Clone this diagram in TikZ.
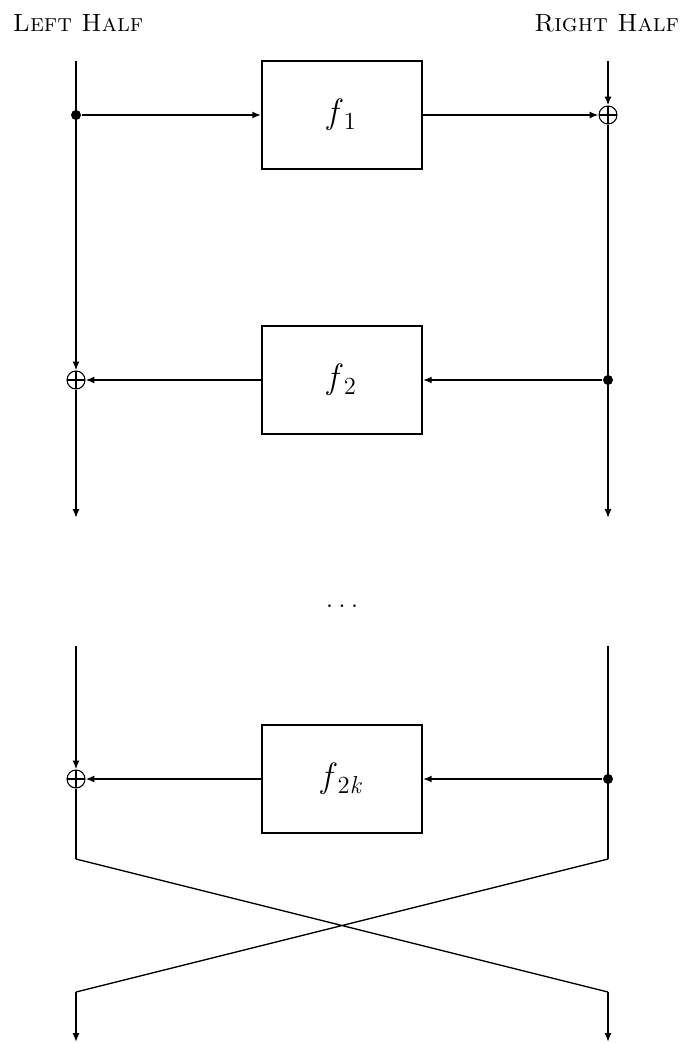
\documentclass[tikz,border=0pt]{standalone}
\usepackage{fontspec}
\usetikzlibrary{arrows.meta}

\newcommand{\fn}[1]{\textit{f}\kern.5pt\textsubscript{#1}}

\tikzset{
	round/.style={draw,rectangle,minimum width=3.2cm,minimum height=2.16cm,line width=1.1pt,font=\fontsize{20}{24}\selectfont},
	xor/.style={draw,circle,line width=.6pt,inner sep=0pt,minimum size=.36cm,fill=white,
		path picture={\draw[line width=.6pt] (path picture bounding box.north) -- (path picture bounding box.south)
			(path picture bounding box.west) -- (path picture bounding box.east);}},
	split/.style={circle,fill=black,inner sep=0pt,minimum size=.2cm},
	half/.style={font=\fontsize{14.2}{17}\selectfont\scshape}
}

\begin{document}
\begin{tikzpicture}[x=.02cm,y=-.02cm,>={Latex[length=5pt,width=4pt]},line width=1.1pt]
	\useasboundingbox (0,0) rectangle (682,1043);

	\node[half,anchor=base west,inner sep=0pt] (lh) at (12,32) {Left Half};
	\node[half,anchor=base east,inner sep=0pt] (rh) at (680,32) {Right Half};

	% first two rounds
	\coordinate (lt1) at (76,61);
	\coordinate (rt1) at (608,61);
	\coordinate (lb1) at (76,518);
	\coordinate (rb1) at (608,518);

	\node[round] (f1) at (342,115) {\fn{1}};
	\node[round] (f2) at (342,380) {\fn{2}};
	\node[xor] (x1) at (608,115) {};
	\node[xor] (x2) at (76,380) {};

	\draw[->] (lt1) -- (x2);
	\draw[->] (x2) -- (lb1);
	\draw[->] (rt1) -- (x1);
	\draw[->] (x1) -- (rb1);

	\node[split] (d1) at (76,115) {};
	\node[split] (d2) at (608,380) {};

	\draw[->] (d1) -- (f1);
	\draw[->] (f1) -- (x1);
	\draw[->] (d2) -- (f2);
	\draw[->] (f2) -- (x2);

	\node[font=\fontsize{18}{22}\selectfont,anchor=base] (gap) at (342,607) {.\hspace{2.6pt}.\hspace{2.6pt}.};

	% last round and swap
	\coordinate (lt3) at (76,646);
	\coordinate (rt3) at (608,646);
	\coordinate (lc) at (76,859);
	\coordinate (rc) at (608,859);
	\coordinate (lx) at (76,992);
	\coordinate (rx) at (608,992);
	\coordinate (lb3) at (76,1042);
	\coordinate (rb3) at (608,1042);

	\node[round] (f2k) at (342,779) {\fn{2\textit{k}}};
	\node[xor] (x3) at (76,779) {};

	\draw[->] (lt3) -- (x3);
	\draw (x3) -- (lc);
	\draw (rt3) -- (rc);

	\node[split] (d3) at (608,779) {};

	\draw[->] (d3) -- (f2k);
	\draw[->] (f2k) -- (x3);

	\draw[line width=.75pt] (lc) -- (rx) (rc) -- (lx);
	\draw[->] (lx) -- (lb3);
	\draw[->] (rx) -- (rb3);
\end{tikzpicture}
\end{document}
